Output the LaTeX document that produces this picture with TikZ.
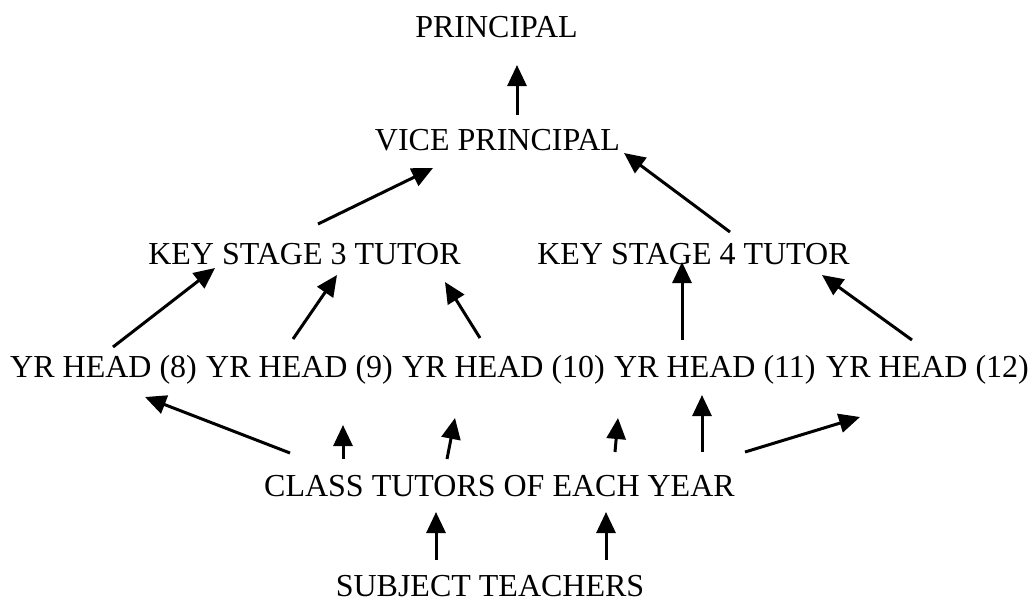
\documentclass[tikz,border=0pt]{standalone}
\usepackage{fontspec}
\setmainfont{Liberation Serif}
\usetikzlibrary{arrows.meta,calc}
\begin{document}
\begin{tikzpicture}[x=1pt,y=-1pt,
  lbl/.style={inner sep=0pt,anchor=base,font=\fontsize{32}{38}\selectfont},
  row/.style={inner sep=0pt,anchor=base west,font=\fontsize{32}{38}\selectfont},
  arr/.style={-{Triangle[length=21pt,width=19pt]},line width=3pt}]
\useasboundingbox (0,0) rectangle (1034,606);
\node[lbl] (pr) at (496.5,37) {PRINCIPAL};
\node[lbl] (vp) at (497.5,150) {VICE PRINCIPAL};
\node[lbl] (k3) at (304.5,264) {KEY STAGE 3 TUTOR};
\node[lbl] (k4) at (693.5,264) {KEY STAGE 4 TUTOR};
\node[row] (y8) at (10,377) {YR HEAD (8)};
\node[row] (y9) at (206,377) {YR HEAD (9)};
\node[row] (y10) at (402,377) {YR HEAD (10)};
\node[row] (y11) at (614,377) {YR HEAD (11)};
\node[row] (y12) at (826,377) {YR HEAD (12)};
\node[lbl] (ct) at (499.5,496) {CLASS TUTORS OF EACH YEAR};
\node[lbl] (st) at (490,596) {SUBJECT TEACHERS};
\draw[arr] ($(vp.base)+(19.5,-35)$) -- ($(pr.base)+(20.5,28)$);
\draw[arr] ($(k3.base)+(13.5,-40)$) -- ($(vp.base)+(-64.5,18)$);
\draw[arr] ($(k4.base)+(36.5,-32)$) -- ($(vp.base)+(126.5,3)$);
\draw[arr] ($(y8.base west)+(103,-30)$) -- ($(k3.base)+(-89.5,4)$);
\draw[arr] ($(y9.base west)+(87,-38)$) -- ($(k3.base)+(32.5,11)$);
\draw[arr] ($(y10.base west)+(78,-39)$) -- ($(k3.base)+(140.5,18)$);
\draw[arr] ($(y11.base west)+(68,-37)$) -- ($(k4.base)+(-11.5,-2)$);
\draw[arr] ($(y12.base west)+(86,-37)$) -- ($(k4.base)+(128.5,11)$);
\draw[arr] ($(ct.base)+(-209.5,-43)$) -- ($(y8.base west)+(135,20)$);
\draw[arr] ($(ct.base)+(-156.5,-37)$) -- ($(y9.base west)+(137,48)$);
\draw[arr] ($(ct.base)+(-52.5,-37)$) -- ($(y10.base west)+(53,41)$);
\draw[arr] ($(ct.base)+(115.5,-44)$) -- ($(y11.base west)+(4,41)$);
\draw[arr] ($(ct.base)+(202.5,-44)$) -- ($(y11.base west)+(88,18)$);
\draw[arr] ($(ct.base)+(245.5,-44)$) -- ($(y12.base west)+(34,40)$);
\draw[arr] ($(st.base)+(-54,-36)$) -- ($(ct.base)+(-63.5,16)$);
\draw[arr] ($(st.base)+(116,-36)$) -- ($(ct.base)+(106.5,16)$);
\end{tikzpicture}
\end{document}
